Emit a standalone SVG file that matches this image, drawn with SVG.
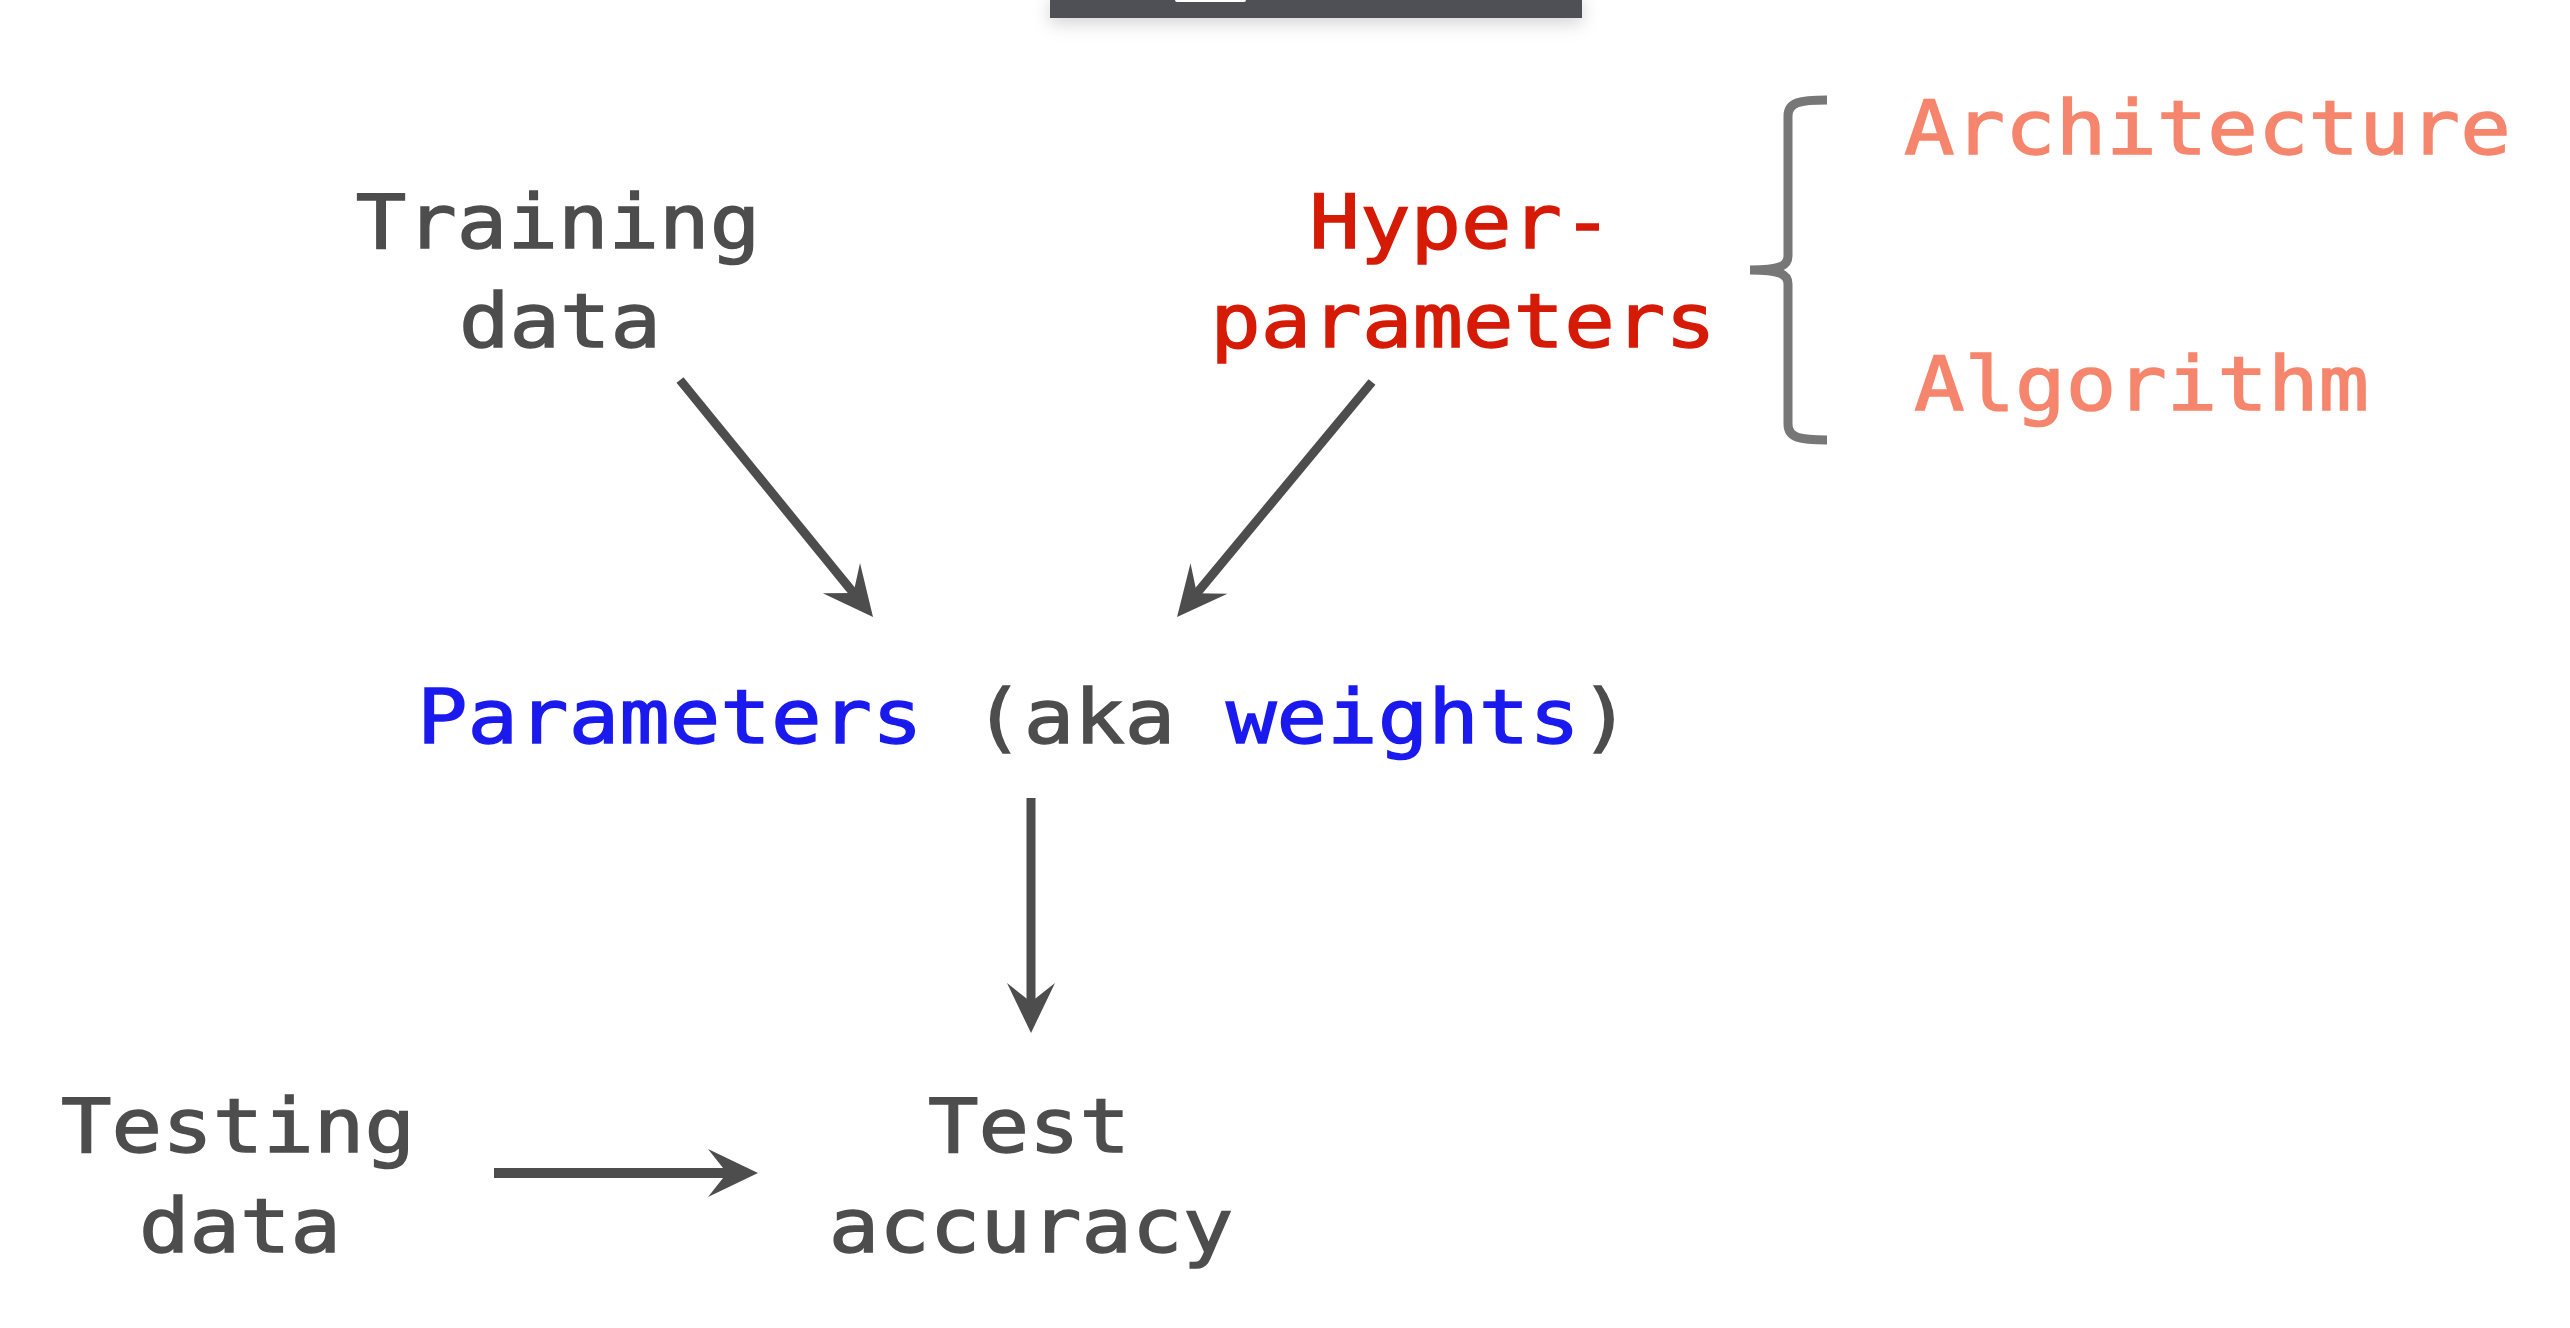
<svg xmlns="http://www.w3.org/2000/svg" width="2570" height="1328" viewBox="0 0 2570 1328">
<style>
  .t { font-family: "DejaVu Sans Mono", "Liberation Mono", monospace; font-size: 75px; stroke-width: 1.4px; }
  .grey { fill: #4d4d4d; stroke: #4d4d4d; }
  .red { fill: #d51a06; stroke: #d51a06; }
  .salmon { fill: #f5856c; stroke: #f5856c; }
  .blue { fill: #1a1aee; stroke: #1a1aee; }
  .conn { stroke: #4d4d4d; stroke-width: 9; fill: none; }
</style>
<defs>
  <marker id="head" markerUnits="userSpaceOnUse" viewBox="-55 -28 65 56" markerWidth="65" markerHeight="56" refX="-22" refY="0" orient="auto" overflow="visible">
    <path d="M0,0 L-50,-24 L-31,0 L-50,24 Z" fill="#4d4d4d"/>
  </marker>
  <filter id="shadow" x="-20%" y="-100%" width="140%" height="400%">
    <feDropShadow dx="0" dy="5" stdDeviation="9" flood-color="#000" flood-opacity="0.18"/>
  </filter>
</defs>
<rect width="2570" height="1328" fill="#ffffff"/>

<g id="topbar">
  <rect x="1050" y="-4" width="532" height="22" fill="#4f5057" filter="url(#shadow)"/>
  <rect x="1175" y="-4" width="71" height="6" rx="2" fill="#ffffff"/>
</g>

<g id="training-data" class="t grey" text-anchor="middle">
  <text transform="translate(558,248) scale(1.12,1)">Training</text>
  <text transform="translate(560,347) scale(1.12,1)">data</text>
</g>

<g id="hyperparameters" class="t red" text-anchor="middle">
  <text transform="translate(1461,248) scale(1.12,1)">Hyper-</text>
  <text transform="translate(1463,347) scale(1.12,1)">parameters</text>
</g>

<g id="bracket">
  <path d="M1827,100 C1800,100 1788,102 1788,116 L1788,256 C1788,266 1780,270 1750,270 C1780,270 1788,274 1788,284 L1788,424 C1788,438 1800,440 1827,440" stroke="#777777" stroke-width="9" fill="none"/>
</g>

<g id="architecture" class="t salmon">
  <text transform="translate(1904,154) scale(1.12,1)">Architecture</text>
</g>

<g id="algorithm" class="t salmon">
  <text transform="translate(1914,410) scale(1.12,1)">Algorithm</text>
</g>

<g id="parameters" class="t">
  <text transform="translate(417,743) scale(1.12,1)"><tspan class="blue">Parameters</tspan><tspan class="grey"> (aka </tspan><tspan class="blue">weights</tspan><tspan class="grey">)</tspan></text>
</g>

<g id="testing-data" class="t grey" text-anchor="middle">
  <text transform="translate(238,1152) scale(1.12,1)">Testing</text>
  <text transform="translate(240,1252) scale(1.12,1)">data</text>
</g>

<g id="test-accuracy" class="t grey" text-anchor="middle">
  <text transform="translate(1029,1152) scale(1.12,1)">Test</text>
  <text transform="translate(1031,1252) scale(1.12,1)">accuracy</text>
</g>

<g id="connectors">
  <line class="conn" x1="680" y1="380" x2="859.1" y2="599.9" marker-end="url(#head)"/>
  <line class="conn" x1="1372" y1="382" x2="1191.1" y2="600.1" marker-end="url(#head)"/>
  <line class="conn" x1="1031" y1="798" x2="1031" y2="1011" marker-end="url(#head)"/>
  <line class="conn" x1="494" y1="1173" x2="736" y2="1173" marker-end="url(#head)" style="stroke-width:10"/>
</g>
</svg>
